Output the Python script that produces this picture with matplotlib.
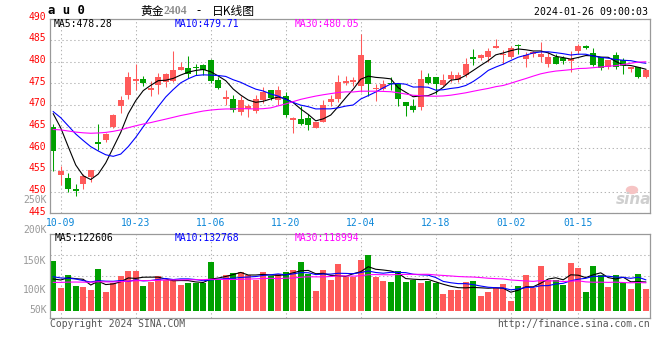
import numpy as np
import pandas as pd
import matplotlib
matplotlib.use('Agg')
import matplotlib.pyplot as plt
from matplotlib.patches import Ellipse
from matplotlib.transforms import ScaledTranslation

W, H = 660, 360

# daily candles au0, 2023-09-28 .. 2024-01-26
opens = [465.0, 453.9, 453.1, 450.5, 451.7, 453.5, 461.4, 461.9, 464.9, 469.7,
         472.4, 475.6, 476.1, 473.4, 474.6, 475.3, 475.6, 478.2, 478.6, 478.9,
         479.2, 480.4, 475.8, 471.4, 471.4, 468.4, 469.1, 468.6, 471.1, 473.4,
         471.1, 472.2, 466.6, 466.7, 467.0, 464.8, 466.2, 470.7, 471.3, 475.0,
         475.3, 474.5, 480.4, 473.6, 473.7, 475.2, 474.9, 470.8, 469.9, 469.5,
         476.6, 476.6, 474.7, 476.0, 475.8, 477.0, 481.2, 480.9, 481.0, 483.3,
         481.5, 481.0, 483.8, 480.6, 481.8, 481.2, 479.6, 481.2, 480.9, 480.2,
         482.4, 483.7, 482.0, 481.0, 478.9, 481.6, 480.4, 478.3, 478.7, 476.6]
highs = [465.7, 455.9, 454.2, 451.7, 454.0, 455.1, 465.7, 463.6, 468.0, 472.2,
         477.6, 479.5, 476.8, 475.5, 477.4, 477.5, 482.4, 479.9, 481.4, 479.6,
         479.4, 480.6, 476.5, 473.4, 472.4, 472.2, 470.3, 472.4, 474.1, 473.4,
         474.3, 473.0, 467.2, 469.7, 468.0, 466.2, 471.2, 472.4, 477.0, 476.8,
         476.4, 486.5, 480.4, 474.9, 475.8, 476.6, 474.9, 470.8, 471.4, 478.0,
         477.3, 476.6, 477.2, 477.8, 477.6, 480.9, 482.9, 481.9, 483.2, 485.2,
         482.7, 483.7, 484.2, 482.2, 482.5, 484.5, 482.2, 481.8, 481.4, 482.4,
         484.2, 483.9, 483.2, 481.0, 480.4, 482.2, 480.9, 478.7, 478.9, 478.3]
lows = [454.8, 451.5, 450.0, 449.1, 450.6, 452.2, 459.7, 461.5, 464.6, 468.1,
        471.4, 473.4, 474.4, 472.0, 472.6, 474.2, 475.4, 478.0, 476.3, 477.0,
        476.9, 475.2, 473.6, 470.1, 468.3, 467.6, 467.2, 468.1, 470.4, 471.1,
        470.1, 467.2, 463.5, 465.3, 464.2, 464.6, 466.2, 469.7, 470.7, 474.7,
        474.5, 473.0, 472.2, 471.0, 473.5, 473.4, 469.7, 467.4, 468.4, 468.8,
        474.8, 472.6, 474.5, 475.3, 475.3, 476.4, 479.3, 480.4, 479.9, 483.2,
        479.5, 480.9, 481.9, 478.7, 481.0, 479.9, 478.7, 479.6, 479.5, 477.6,
        481.9, 482.9, 479.1, 478.0, 478.3, 478.3, 477.2, 477.6, 476.3, 476.3]
closes = [459.4, 454.7, 450.5, 450.2, 453.6, 455.0, 461.0, 463.4, 467.8, 471.2,
          476.6, 476.1, 475.0, 473.9, 476.6, 477.1, 478.2, 478.9, 477.2, 478.6,
          478.2, 475.6, 474.0, 471.8, 468.9, 471.2, 469.9, 471.4, 473.0, 471.6,
          473.4, 467.8, 467.0, 465.7, 465.3, 466.0, 470.1, 471.4, 475.4, 475.6,
          475.9, 481.6, 474.9, 474.0, 474.9, 474.9, 471.3, 469.7, 468.8, 476.0,
          475.1, 474.9, 475.8, 477.0, 477.0, 479.6, 480.6, 481.6, 482.5, 483.7,
          481.8, 483.2, 483.6, 481.6, 482.3, 481.8, 481.0, 479.6, 480.1, 480.6,
          483.7, 483.2, 479.3, 478.6, 480.4, 478.9, 479.1, 478.7, 476.6, 478.1]
volumes = [212.7, 98.4, 152.8, 105.7, 102.7, 89.9, 179.8, 81.3, 119.8, 148.5,
           171.2, 171.2, 105.7, 121.6, 148.5, 131.4, 134.4, 110.0, 119.8, 119.8,
           119.8, 208.4, 131.4, 152.8, 161.4, 165.6, 152.8, 131.4, 165.6, 148.5,
           157.1, 165.6, 174.2, 208.4, 157.1, 85.6, 174.2, 131.4, 199.9, 143.0,
           143.0, 217.0, 238.4, 145.5, 127.1, 122.8, 169.9, 122.8, 131.4, 118.6,
           127.1, 117.3, 71.5, 88.6, 88.6, 122.8, 127.1, 62.9, 80.0, 97.2,
           114.3, 41.5, 105.7, 152.8, 97.2, 191.3, 131.4, 131.4, 110.0, 204.2,
           182.8, 80.0, 191.3, 152.8, 101.4, 152.8, 118.6, 92.9, 157.1, 92.9]

# sessions before the window, estimated from where the MA lines start
pre_closes = [457.5, 458.0, 457.8, 458.6, 458.1, 459.0, 459.6, 460.3, 461.0, 461.8,
              462.5, 463.0, 463.8, 464.5, 465.2, 465.8, 466.5, 467.0, 467.6, 468.2,
              468.8, 469.3, 469.0, 468.6, 469.2, 471.0, 472.2, 471.4, 466.0]
pre_volumes = [100, 115, 95, 120, 105, 110, 98, 125, 112, 104,
               118, 96, 108, 122, 101, 115, 110, 99, 119, 110,
               150, 165, 140, 170, 150, 120, 105, 125, 116]

tick_idx = [1, 11, 21, 31, 41, 51, 61, 70]
tick_labels = ['10-09', '10-23', '11-06', '11-20', '12-04', '12-18', '01-02', '01-15']
price_ticks = [445, 450, 455, 460, 465, 470, 475, 480, 485, 490]
vol_labels = ['250K', '200K', '150K', '100K', '50K']

RED = '#ff5a5a'
GREEN = '#00a000'
GRID = '#b4b4b4'
MONO = 'DejaVu Sans Mono'
CJK = ['Noto Sans CJK SC', 'DejaVu Sans']


def fpos(x, y):
    return x / W, 1 - y / H


def ma(pre, vals, n):
    s = pd.Series(list(pre) + list(vals)).rolling(n).mean()
    return s.values[len(pre):]


n = len(closes)
idx = np.arange(n)
o = np.array(opens)
c = np.array(closes)
up = c >= o
colors = np.where(up, RED, GREEN)
vol = np.array(volumes) * 1000
pre_vol = np.array(pre_volumes) * 1000

fig = plt.figure(figsize=(W / 100, H / 100), dpi=100)
ax = fig.add_axes([50 / W, 1 - 213.3 / H, 599.5 / W, 194.8 / H])
axv = fig.add_axes([50 / W, 1 - 318.3 / H, 599.5 / W, 84 / H])

for a in (ax, axv):
    a.set_xlim(-0.43, 79.5)
    a.set_axisbelow(True)
    for sp in a.spines.values():
        sp.set_color('#999999')
        sp.set_linewidth(0.9)
    a.set_xticks(tick_idx)
    a.tick_params(length=0)
    a.grid(True, color=GRID, linestyle=(0, (1.3, 2.5)), linewidth=0.75)

# candles
ax.vlines(idx, lows, highs, colors=colors, linewidth=0.75)
body_lo = np.minimum(o, c)
body_h = np.maximum(np.abs(c - o), 0.15)
ax.bar(idx, body_h, bottom=body_lo, width=0.8, color=colors, linewidth=0)

ax.plot(idx, ma(pre_closes, closes, 5), color='black', lw=0.8)
ax.plot(idx, ma(pre_closes, closes, 10), color='#0000ff', lw=0.8)
ax.plot(idx, ma(pre_closes, closes, 30), color='#ff00ff', lw=0.8)

ax.set_ylim(445, 490)
ax.set_yticks(price_ticks)
ax.set_yticklabels([str(v) for v in price_ticks], color='#ff0000',
                   fontsize=7, family=MONO)
ax.tick_params(axis='y', pad=3)
for lab in ax.get_yticklabels():
    lab.set_transform(lab.get_transform() + ScaledTranslation(0, 2 / 72, fig.dpi_scale_trans))
ax.set_xticklabels(tick_labels, color='#0a86d8', fontsize=7, family=MONO)
ax.tick_params(axis='x', pad=3.2)

# volume
axv.bar(idx, vol, width=0.8, color=colors, linewidth=0)
axv.plot(idx, ma(pre_vol, vol, 5), color='black', lw=0.8)
axv.plot(idx, ma(pre_vol, vol, 10), color='#0000ff', lw=0.8)
axv.plot(idx, ma(pre_vol, vol, 30), color='#ff00ff', lw=0.8)
vlo, vhi = -32500, 327000
axv.set_ylim(vlo, vhi)
axv.set_yticks(np.linspace(vlo, vhi, 5)[1:-1])
axv.set_yticklabels([])
axv.set_xticklabels([])

for lab, y in zip(vol_labels, [200.3, 230.3, 261, 290, 310]):
    fig.text(*fpos(46.5, y), lab, color='#999999', fontsize=7, family=MONO,
             ha='right', va='center')

# header texts
fig.text(*fpos(48.5, 11), 'a u 0', fontsize=8.8, family=MONO, fontweight='bold',
         va='center')
fig.text(*fpos(140, 11), '黄金', fontsize=8.5, family=CJK, va='center')
fig.text(*fpos(164, 11), '2404', fontsize=8.5, family='Liberation Serif',
         fontweight='bold', color='#8c8c8c', va='center')
fig.text(*fpos(196, 11), '-', fontsize=8.5, family=CJK, va='center')
fig.text(*fpos(212, 11), '日K线图', fontsize=8.5, family=CJK, va='center')
fig.text(*fpos(648.5, 12), '2024-01-26 09:00:03', fontsize=7.1, family=MONO,
         ha='right', va='center')

for txt, x, col in [('MA5:478.28', 54, 'black'), ('MA10:479.71', 175, '#0000ff'),
                    ('MA30:480.05', 295, '#ff00ff')]:
    fig.text(*fpos(x, 23.7), txt, fontsize=7, family=MONO, color=col, va='center')
for txt, x, col in [('MA5:122606', 54.5, 'black'), ('MA10:132768', 175, '#0000ff'),
                    ('MA30:118994', 295, '#ff00ff')]:
    fig.text(*fpos(x, 238.3), txt, fontsize=7, family=MONO, color=col, va='center')

fig.text(*fpos(50, 323.8), 'Copyright 2024 SINA.COM', fontsize=7, family=MONO,
         color='#555555', va='center')
fig.text(*fpos(649.5, 323.8), 'http://finance.sina.com.cn', fontsize=7,
         family=MONO, color='#555555', ha='right', va='center')

# sina watermark
fig.add_artist(Ellipse(fpos(632, 190), 11 / W, 7 / H, color='#f6c4c4'))
fig.text(*fpos(634, 200), 'sina', fontsize=11, style='italic', fontweight='bold',
         color='#cfcfcf', ha='center', va='center')

fig.savefig('out.png', dpi=100)
